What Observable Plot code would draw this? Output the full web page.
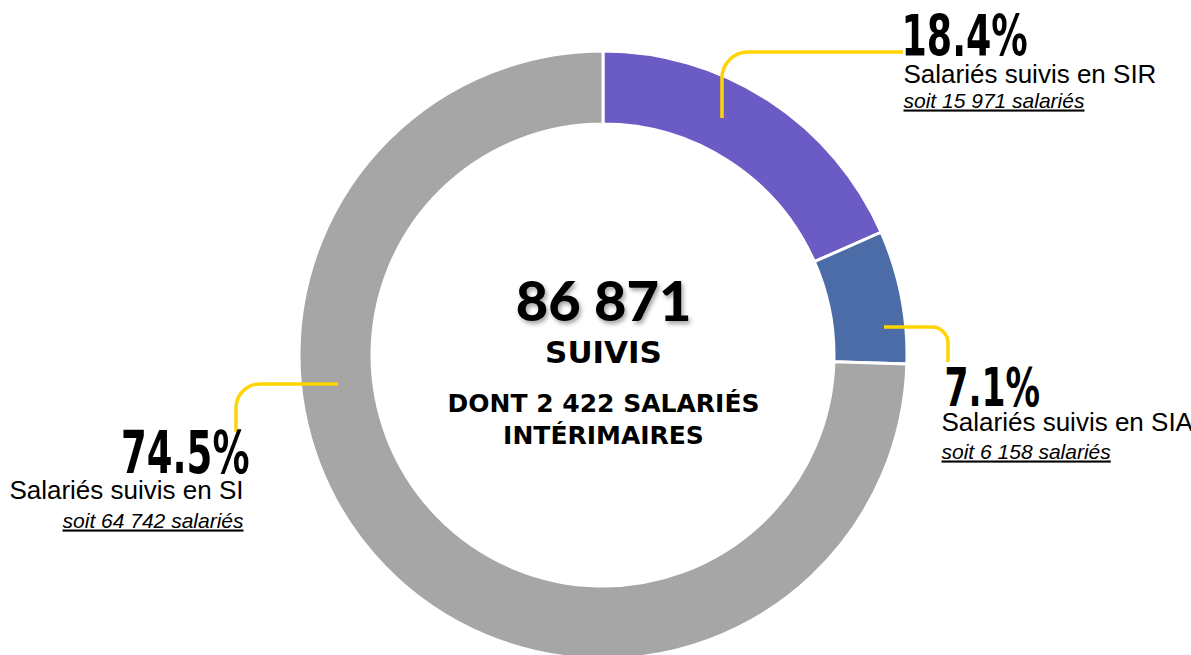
<!DOCTYPE html>
<html><head><meta charset="utf-8">
<script src="https://cdn.jsdelivr.net/npm/d3@7"></script>
<script src="https://cdn.jsdelivr.net/npm/@observablehq/plot@0.6"></script>
<style>html,body{margin:0;padding:0;background:#fff;overflow:hidden}</style>
</head><body><div id="chart"></div>
<script>
// ---- data ----
const categories = ["SIR", "SIA", "SI"];
const seriesLabels = ["Salariés suivis en SIR", "Salariés suivis en SIA", "Salariés suivis en SI"];
const counts = [15971, 6158, 64742];
const percentLabels = ["18.4%", "7.1%", "74.5%"];
const subLabels = ["soit 15 971 salariés", "soit 6 158 salariés", "soit 64 742 salariés"];
const totalLabel = "86 871";
const centerLines = ["SUIVIS", "DONT 2 422 SALARIÉS", "INTÉRIMAIRES"];

// ---- styles & layout (pixels) ----
const colors = ["#6b5bc4", "#4b6ca6", "#a6a6a6"];
const W = 1191, H = 655, CX = 603, CY = 355, R_OUT = 304, R_IN = 231;
const PCT_SCALE = 0.71;
const labelLayout = [
  {anchor: "start", px: 901, py: 55, size: 57, nx: 903, ny: 82, sy: 107},
  {anchor: "start", px: 944, py: 405, size: 54, nx: 941, ny: 430, sy: 458},
  {anchor: "end", px: 249, py: 472, size: 58, nx: 243, ny: 498, sy: 527}
];
const leaders = [
  {start: [722, 118], corner: [722, 52], end: [903, 52], r: 26},
  {start: [884, 327], corner: [948, 327], end: [948, 362], r: 16},
  {start: [338, 384], corner: [236, 384], end: [236, 432], r: 24}
];

const rows = categories.map((c, i) => ({category: c, count: counts[i], pct: percentLabels[i], name: seriesLabels[i], sub: subLabels[i]}));

// donut drawn via the plot's x/y scales
function donut(index, scales) {
  const x0 = scales.x(0), y0 = scales.y(0);
  const k = Math.abs(scales.x(1) - scales.x(0));
  const arcs = d3.pie().sort(null).value(d => d.count)(rows);
  const arc = d3.arc().innerRadius(R_IN * k).outerRadius(R_OUT * k);
  const g = d3.create("svg:g").attr("transform", `translate(${x0},${y0})`);
  g.selectAll("path").data(arcs).join("path")
    .attr("d", arc)
    .attr("fill", (d, i) => colors[i])
    .attr("stroke", "#fff")
    .attr("stroke-width", 3);
  return g.node();
}
function leaderLines(index, scales) {
  const g = d3.create("svg:g");
  const P = ([px, py]) => [scales.x(px - CX), scales.y(CY - py)];
  for (const L of leaders) {
    const [sx, sy] = P(L.start), [cx, cy] = P(L.corner), [ex, ey] = P(L.end);
    const p = d3.path();
    p.moveTo(sx, sy); p.arcTo(cx, cy, ex, ey, L.r); p.lineTo(ex, ey);
    g.append("path").attr("d", p.toString()).attr("fill", "none")
      .attr("stroke", "#ffd400").attr("stroke-width", 3.5);
  }
  return g.node();
}

const fx = key => (d, i) => labelLayout[i][key] - CX;
const fy = key => (d, i) => CY - labelLayout[i][key];
const isStart = (d, i) => labelLayout[i].anchor === "start";
const isEnd = (d, i) => labelLayout[i].anchor === "end";

function labelMarks(filter, anchor) {
  return [
    Plot.text(rows, {filter, x: fx("px"), y: fy("py"), text: "pct", textAnchor: anchor, lineAnchor: "bottom",
      fontSize: (d, i) => labelLayout[i].size, fontWeight: "bold", fontFamily: "'DejaVu Sans Condensed', 'DejaVu Sans', sans-serif",
      fill: "#000"}),
    Plot.text(rows, {filter, x: fx("nx"), y: fy("ny"), text: "name", textAnchor: anchor, lineAnchor: "bottom",
      fontSize: 26, fontFamily: "'Liberation Sans', Arial, sans-serif", fill: "#000"}),
    Plot.text(rows, {filter, x: fx("nx"), y: fy("sy"), text: "sub", textAnchor: anchor, lineAnchor: "bottom",
      fontSize: 21, fontStyle: "italic", fontFamily: "'Liberation Sans', Arial, sans-serif", fill: "#000"})
  ];
}

const numFont = "Lato, 'Open Sans', sans-serif";
const wordFont = "'DejaVu Sans', sans-serif";
const svg = Plot.plot({
  width: W, height: H, margin: 0,
  x: {domain: [-CX, W - CX], axis: null},
  y: {domain: [CY - H, CY], axis: null},
  style: {background: "#fff"},
  marks: [
    donut,
    leaderLines,
    ...labelMarks(isStart, "start"),
    ...labelMarks(isEnd, "end"),
    Plot.text([totalLabel], {x: 0, y: CY - 320, text: d => d, lineAnchor: "bottom", fontSize: 56, fontWeight: 900,
      fontFamily: numFont, fill: "#000"}),
    Plot.text([centerLines[0]], {x: 0, y: CY - 362, text: d => d, lineAnchor: "bottom", fontSize: 31, fontWeight: "bold",
      fontFamily: wordFont, fill: "#000"}),
    Plot.text(centerLines.slice(1), {x: 0, y: (d, i) => CY - [411, 443][i], text: d => d, lineAnchor: "bottom", fontSize: 25, fontWeight: "bold",
      fontFamily: wordFont, fill: "#000"})
  ]
});

// post styling (matched by text content)
const s = d3.select(svg);
const defs = s.insert("defs", ":first-child");
const f = defs.append("filter").attr("id", "shadow").attr("x", "-20%").attr("y", "-20%").attr("width", "140%").attr("height", "140%");
f.append("feDropShadow").attr("dx", 2).attr("dy", 3).attr("stdDeviation", 2).attr("flood-color", "#000").attr("flood-opacity", 0.35);
s.selectAll("text").each(function () {
  const txt = this.textContent;
  if (percentLabels.includes(txt)) {
    const t = this.getAttribute("transform");
    if (t) this.setAttribute("transform", t + ` scale(${PCT_SCALE},1)`);
    else {
      const x = +this.getAttribute("x") || 0, y = +this.getAttribute("y") || 0;
      this.removeAttribute("x"); this.removeAttribute("y");
      this.setAttribute("transform", `translate(${x},${y}) scale(${PCT_SCALE},1)`);
    }
  } else if (subLabels.includes(txt)) {
    this.style.textDecoration = "underline";
  } else if (txt === totalLabel) {
    this.setAttribute("filter", "url(#shadow)");
  }
});

document.getElementById("chart").appendChild(svg);
</script>
</body></html>
